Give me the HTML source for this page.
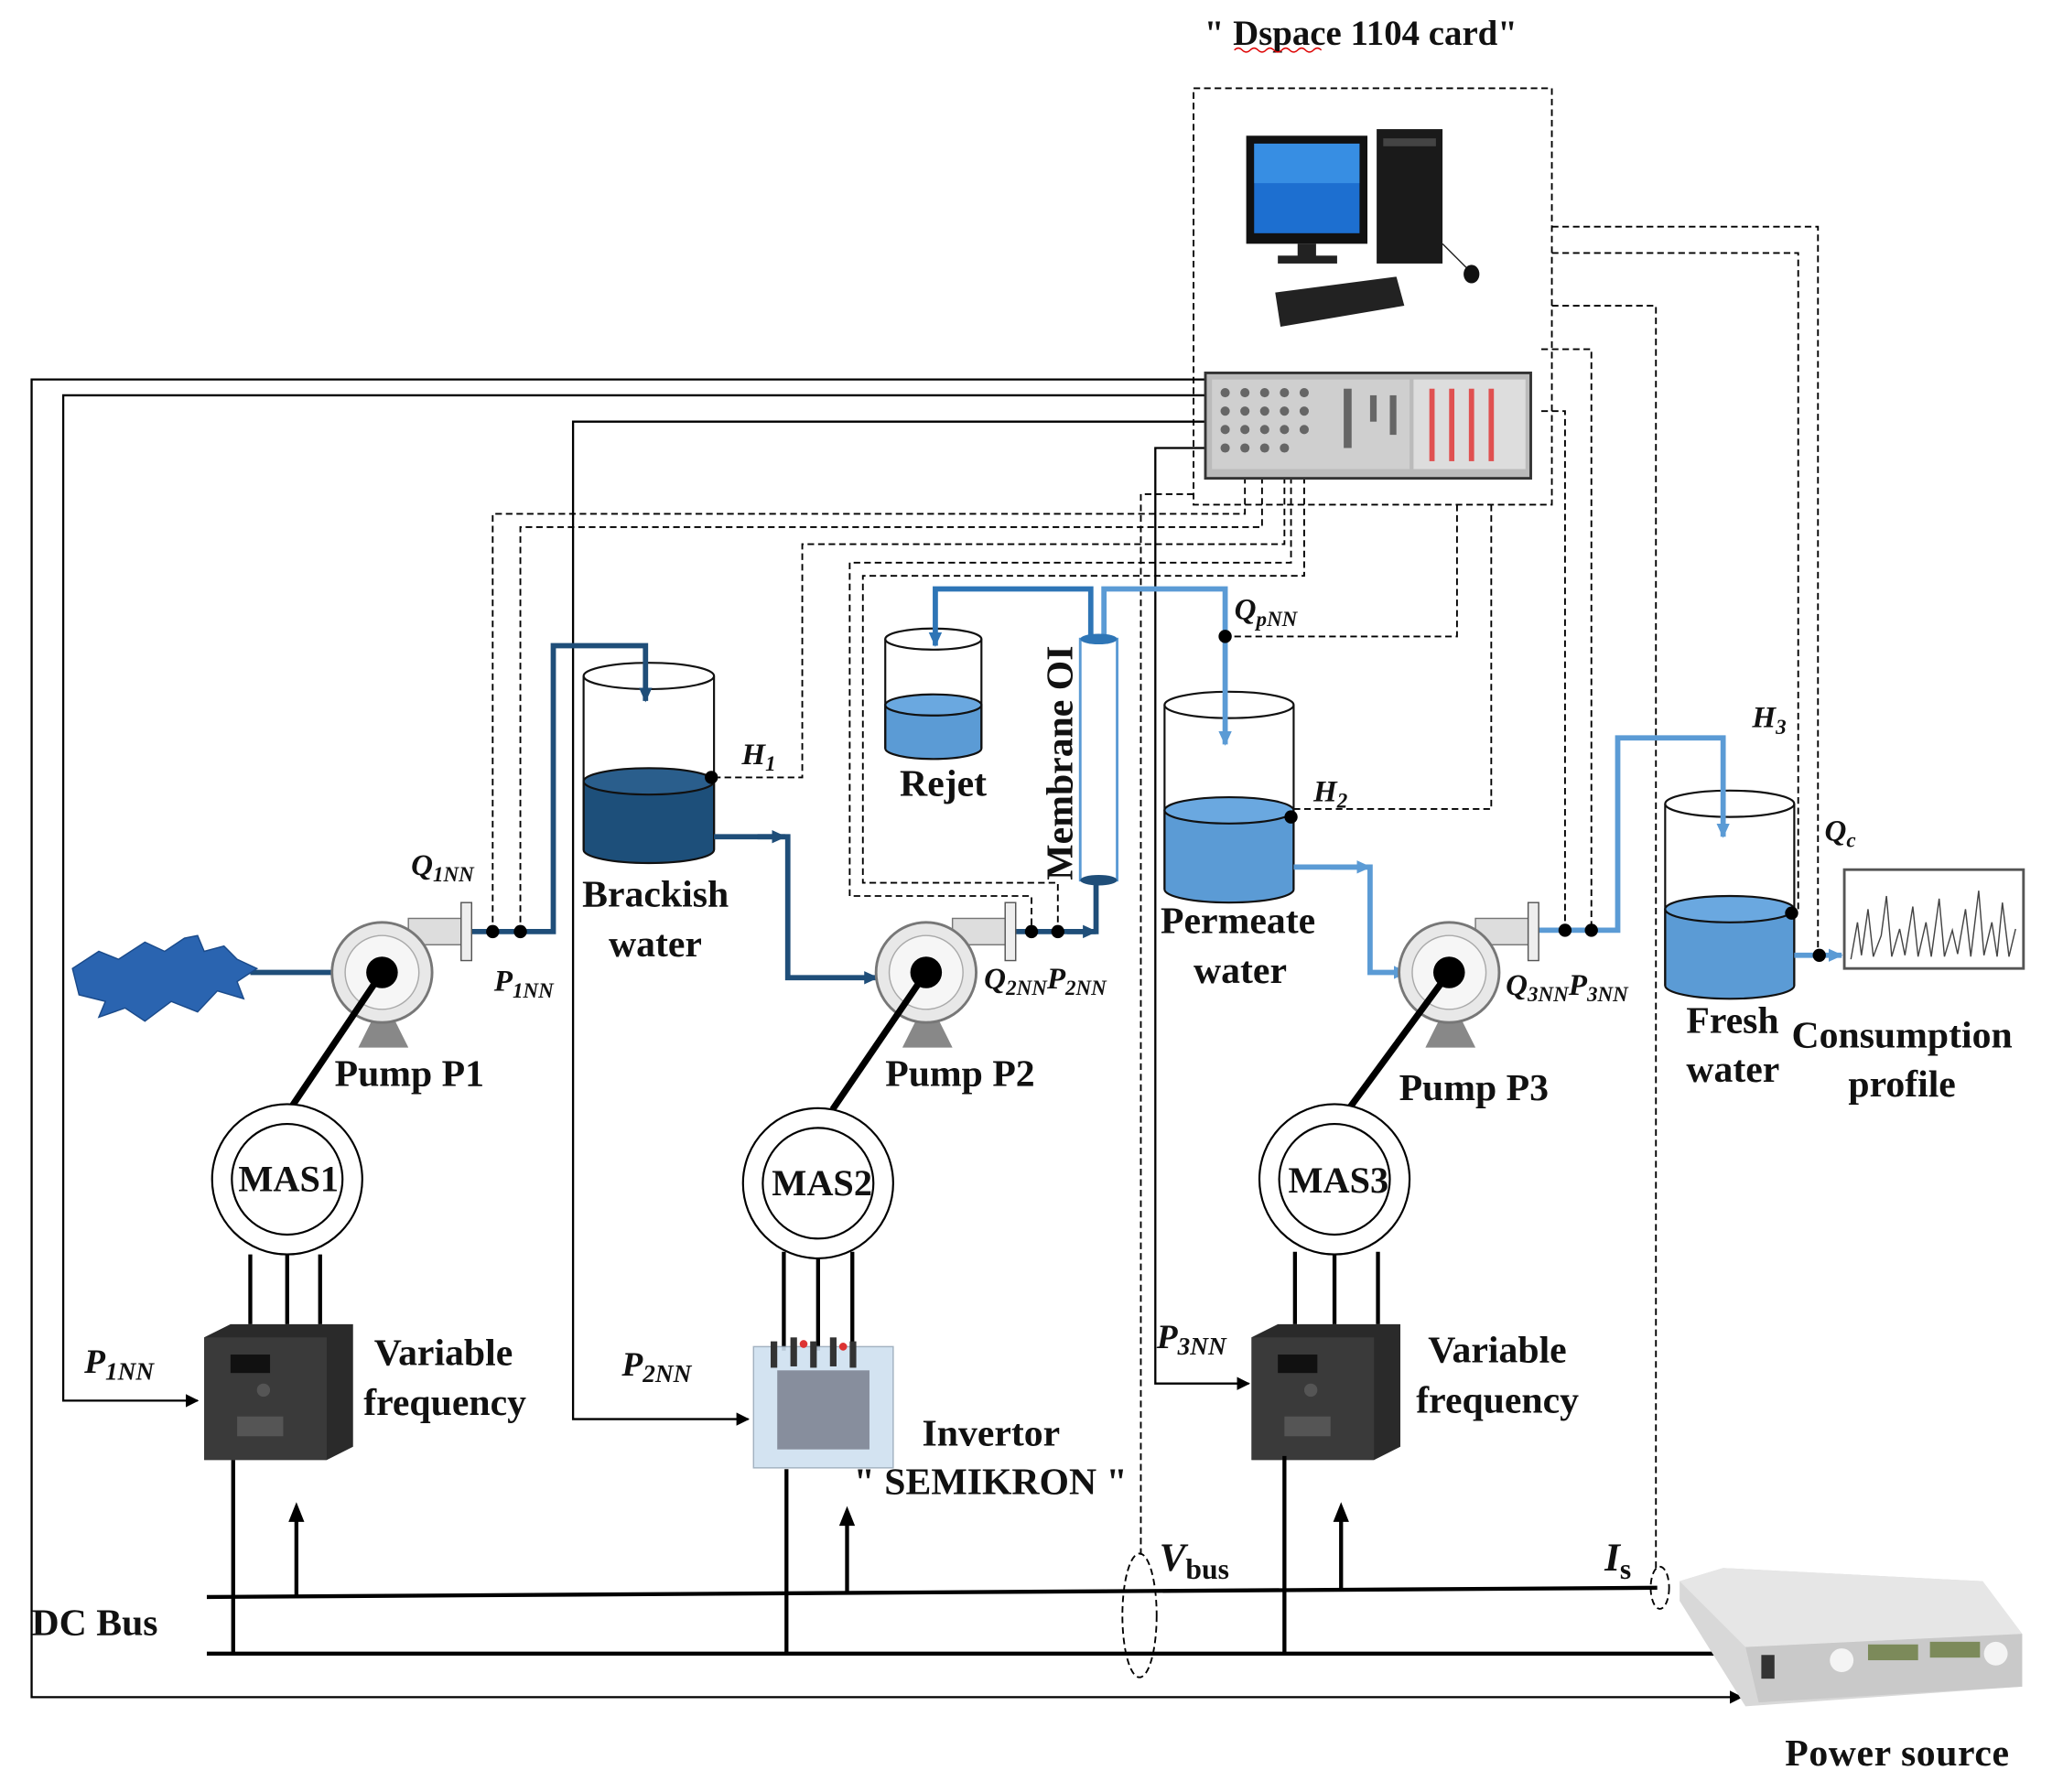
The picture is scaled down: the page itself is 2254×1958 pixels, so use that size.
<!DOCTYPE html>
<html><head><meta charset="utf-8"><style>
html,body{margin:0;padding:0;background:#fff;}
svg{display:block;}
text{font-family:"Liberation Serif",serif;font-weight:bold;fill:#111;}
.i{font-style:italic;}
</style></head><body>
<svg width="2254" height="1958" viewBox="0 0 1566 1360" preserveAspectRatio="none" xmlns="http://www.w3.org/2000/svg">
<defs>
<marker id="ab" markerWidth="10" markerHeight="10" refX="9" refY="5" orient="auto" markerUnits="userSpaceOnUse"><path d="M0,0 L10,5 L0,10 z" fill="#000"/></marker>
<marker id="ad" markerWidth="12" markerHeight="12" refX="10" refY="6" orient="auto" markerUnits="userSpaceOnUse"><path d="M0,1 L11,6 L0,11 z" fill="#1f4e79"/></marker>
<marker id="am" markerWidth="12" markerHeight="12" refX="10" refY="6" orient="auto" markerUnits="userSpaceOnUse"><path d="M0,1 L11,6 L0,11 z" fill="#2e75b6"/></marker>
<marker id="al" markerWidth="12" markerHeight="12" refX="10" refY="6" orient="auto" markerUnits="userSpaceOnUse"><path d="M0,1 L11,6 L0,11 z" fill="#5b9bd5"/></marker>
</defs>

<text x="1033" y="34" font-size="27" text-anchor="middle">" Dspace 1104 card"</text>
<path d="M937 38 q3 -3 6 0 t6 0 t6 0 t6 0 t6 0 t6 0 t6 0 t6 0 t6 0 t6 0 t6 0" stroke="#d00" fill="none" stroke-width="1"/>

<g stroke="#000" stroke-width="1.3" fill="none" stroke-dasharray="5,3">
<rect x="906" y="67" width="272" height="316"/>
<path d="M945 362 V390 H374 V705"/>
<path d="M958 362 V400 H395 V705"/>
<path d="M975 362 V413 H609 V590 H545"/>
<path d="M980 362 V427 H645 V680 H783 V705"/>
<path d="M990 362 V437 H655 V670 H803 V705"/>
<path d="M1106 383 V483 H932"/>
<path d="M1132 383 V614 H982"/>
<path d="M1178 172 H1380 V722"/>
<path d="M1178 192 H1365 V690"/>
<path d="M1178 232 H1257 V1190"/>
<path d="M1170 265 H1208 V705"/>
<path d="M1170 312 H1188 V705"/>
<path d="M906 375 H866 V1180"/>
<ellipse cx="865" cy="1226" rx="13" ry="47"/>
<ellipse cx="1260" cy="1205" rx="7" ry="16"/>
</g>

<g stroke="#000" stroke-width="1.6" fill="none">
<path d="M916 288 H24 V1288 H1322" marker-end="url(#ab)"/>
<path d="M916 300 H48 V1063 H150" marker-end="url(#ab)"/>
<path d="M916 320 H435 V1077 H568" marker-end="url(#ab)"/>
<path d="M916 340 H877 V1050 H948" marker-end="url(#ab)"/>
</g>

<rect x="946" y="103" width="92" height="82" fill="#111"/>
<rect x="952" y="109" width="80" height="68" fill="#1d6fd0"/>
<rect x="952" y="109" width="80" height="30" fill="#4aa3f0" opacity="0.6"/>
<rect x="985" y="185" width="14" height="10" fill="#222"/>
<rect x="970" y="194" width="45" height="6" fill="#222"/>
<rect x="1045" y="98" width="50" height="102" fill="#1a1a1a"/>
<rect x="1050" y="105" width="40" height="6" fill="#444"/>
<polygon points="968,222 1060,210 1066,232 972,248" fill="#222"/>
<path d="M1095 185 Q1110 200 1115 205" stroke="#222" fill="none"/>
<ellipse cx="1117" cy="208" rx="6" ry="7" fill="#111"/>

<rect x="915" y="283" width="247" height="80" fill="#bbb" stroke="#333" stroke-width="2"/>
<rect x="920" y="288" width="150" height="68" fill="#cfcfcf"/>
<rect x="1073" y="288" width="85" height="68" fill="#ddd"/>
<g fill="#666">
<circle cx="930" cy="298" r="3.5"/><circle cx="945" cy="298" r="3.5"/><circle cx="960" cy="298" r="3.5"/><circle cx="975" cy="298" r="3.5"/><circle cx="990" cy="298" r="3.5"/>
<circle cx="930" cy="312" r="3.5"/><circle cx="945" cy="312" r="3.5"/><circle cx="960" cy="312" r="3.5"/><circle cx="975" cy="312" r="3.5"/><circle cx="990" cy="312" r="3.5"/>
<circle cx="930" cy="326" r="3.5"/><circle cx="945" cy="326" r="3.5"/><circle cx="960" cy="326" r="3.5"/><circle cx="975" cy="326" r="3.5"/><circle cx="990" cy="326" r="3.5"/>
<circle cx="930" cy="340" r="3.5"/><circle cx="945" cy="340" r="3.5"/><circle cx="960" cy="340" r="3.5"/><circle cx="975" cy="340" r="3.5"/>
<rect x="1020" y="295" width="6" height="45"/><rect x="1040" y="300" width="5" height="20"/><rect x="1055" y="300" width="5" height="30"/>
</g>
<g fill="#e05050"><rect x="1085" y="295" width="4" height="55"/><rect x="1100" y="295" width="4" height="55"/><rect x="1115" y="295" width="4" height="55"/><rect x="1130" y="295" width="4" height="55"/></g>

<g stroke="#111" stroke-width="1.5">
<path d="M443 593 V645 A49.5 10 0 0 0 542 645 V593 Z" fill="#1d4f7a"/>
<ellipse cx="492.5" cy="593" rx="49.5" ry="10" fill="#2a5e8c"/>
<path d="M443 513 V645 M542 513 V645" fill="none"/>
<ellipse cx="492.5" cy="513" rx="49.5" ry="10" fill="none"/>
<path d="M672 535 V568 A36.5 8 0 0 0 745 568 V535 Z" fill="#5b9bd5"/>
<ellipse cx="708.5" cy="535" rx="36.5" ry="8" fill="#6aa8e0"/>
<path d="M672 485 V568 M745 485 V568" fill="none"/>
<ellipse cx="708.5" cy="485" rx="36.5" ry="8" fill="none"/>
<path d="M884 615 V675 A49 10 0 0 0 982 675 V615 Z" fill="#5b9bd5"/>
<ellipse cx="933" cy="615" rx="49" ry="10" fill="#6aa8e0"/>
<path d="M884 535 V675 M982 535 V675" fill="none"/>
<ellipse cx="933" cy="535" rx="49" ry="10" fill="none"/>
<path d="M1264 690 V748 A49 10 0 0 0 1362 748 V690 Z" fill="#5b9bd5"/>
<ellipse cx="1313" cy="690" rx="49" ry="10" fill="#6aa8e0"/>
<path d="M1264 610 V748 M1362 610 V748" fill="none"/>
<ellipse cx="1313" cy="610" rx="49" ry="10" fill="none"/>
</g>
<rect x="820" y="485" width="28" height="183" fill="#fff" stroke="#5b9bd5" stroke-width="2"/>

<g fill="none" stroke-width="4">
<path d="M190 738 H260" stroke="#1f4e79"/>
<path d="M358 707 H420 V490 H490 V532" stroke="#1f4e79" marker-end="url(#ad)"/>
<path d="M542 635 H598 V742 H666" stroke="#1f4e79" marker-end="url(#ad)"/>
<path d="M575 635 H596" stroke="#1f4e79" marker-end="url(#ad)"/>
<path d="M770 707 H832 V668" stroke="#1f4e79"/>
<path d="M810 707 H832" stroke="#1f4e79" marker-end="url(#ad)"/>
<path d="M828 485 V447 H710 V490" stroke="#2e75b6" marker-end="url(#am)"/>
<path d="M838 485 V447 H930 V565" stroke="#5b9bd5" marker-end="url(#al)"/>
<path d="M982 658 H1040 V738 H1068" stroke="#5b9bd5" marker-end="url(#al)"/>
<path d="M1010 658 H1040" stroke="#5b9bd5" marker-end="url(#al)"/>
<path d="M1168 706 H1228 V560 H1308 V635" stroke="#5b9bd5" marker-end="url(#al)"/>
<path d="M1362 725 H1398" stroke="#5b9bd5" marker-end="url(#al)"/>
</g>
<ellipse cx="834" cy="485" rx="14" ry="4" fill="#2e75b6"/>
<ellipse cx="834" cy="668" rx="14" ry="4" fill="#1f4e79"/>

<polygon points="55,735 75,722 90,728 110,715 125,722 140,712 150,710 155,722 170,718 180,728 195,735 180,745 185,758 165,752 150,768 130,760 110,775 95,765 75,772 80,760 60,755" fill="#2a64b0" stroke="#1a4a8a"/>

<g fill="#000">
<circle cx="540" cy="590" r="5"/><circle cx="374" cy="707" r="5"/><circle cx="395" cy="707" r="5"/>
<circle cx="783" cy="707" r="5"/><circle cx="803" cy="707" r="5"/><circle cx="930" cy="483" r="5"/>
<circle cx="980" cy="620" r="5"/><circle cx="1188" cy="706" r="5"/><circle cx="1208" cy="706" r="5"/>
<circle cx="1360" cy="693" r="5"/><circle cx="1381" cy="725" r="5"/>
</g>

<g id="pump">
<polygon points="272,795 310,795 300,775 282,775" fill="#888"/>
<rect x="310" y="697" width="42" height="20" fill="#ddd" stroke="#777"/>
<rect x="350" y="685" width="8" height="44" fill="#eee" stroke="#555"/>
<circle cx="290" cy="738" r="38" fill="#e8e8e8" stroke="#777" stroke-width="2"/>
<circle cx="290" cy="738" r="28" fill="#f6f6f6" stroke="#aaa"/>
<circle cx="290" cy="738" r="12" fill="#000"/>
</g>
<use href="#pump" transform="translate(413,0)"/>
<use href="#pump" transform="translate(810,0)"/>

<g stroke="#000" stroke-width="5">
<line x1="290" y1="738" x2="218" y2="845"/>
<line x1="703" y1="738" x2="632" y2="842"/>
<line x1="1100" y1="738" x2="1025" y2="840"/>
</g>

<g fill="#fff" stroke="#000" stroke-width="1.5">
<circle cx="218" cy="895" r="57"/><circle cx="218" cy="895" r="42"/>
<circle cx="621" cy="898" r="57"/><circle cx="621" cy="898" r="42"/>
<circle cx="1013" cy="895" r="57"/><circle cx="1013" cy="895" r="42"/>
</g>
<text x="219" y="904" font-size="28" text-anchor="middle">MAS1</text>
<text x="624" y="907" font-size="28" text-anchor="middle">MAS2</text>
<text x="1016" y="905" font-size="28" text-anchor="middle">MAS3</text>

<g stroke="#000" stroke-width="3">
<line x1="190" y1="952" x2="190" y2="1005"/><line x1="218" y1="952" x2="218" y2="1005"/><line x1="243" y1="952" x2="243" y2="1005"/>
<line x1="595" y1="950" x2="595" y2="1025"/><line x1="621" y1="955" x2="621" y2="1025"/><line x1="647" y1="950" x2="647" y2="1025"/>
<line x1="983" y1="950" x2="983" y2="1005"/><line x1="1013" y1="952" x2="1013" y2="1005"/><line x1="1046" y1="950" x2="1046" y2="1005"/>
</g>

<g id="drv">
<polygon points="155,1015 175,1005 268,1005 268,1098 248,1108 155,1108" fill="#2a2a2a"/>
<rect x="155" y="1015" width="93" height="93" fill="#3a3a3a"/>
<rect x="175" y="1028" width="30" height="14" fill="#111"/>
<circle cx="200" cy="1055" r="5" fill="#555"/>
<rect x="180" y="1075" width="35" height="15" fill="#555"/>
</g>
<use href="#drv" transform="translate(795,0)"/>
<rect x="572" y="1022" width="106" height="92" fill="#cfe0f0" stroke="#9ab" opacity="0.9"/>
<rect x="590" y="1040" width="70" height="60" fill="#556" opacity="0.6"/>
<g fill="#333"><rect x="585" y="1018" width="5" height="20"/><rect x="600" y="1015" width="5" height="22"/><rect x="615" y="1018" width="5" height="20"/><rect x="630" y="1015" width="5" height="22"/><rect x="645" y="1018" width="5" height="20"/></g>
<circle cx="610" cy="1020" r="3" fill="#d33"/><circle cx="640" cy="1022" r="3" fill="#d33"/>

<g stroke="#000" stroke-width="3" fill="none">
<line x1="157" y1="1212" x2="1258" y2="1205"/>
<line x1="157" y1="1255" x2="1320" y2="1255"/>
<line x1="177" y1="1108" x2="177" y2="1255"/>
<line x1="597" y1="1115" x2="597" y2="1255"/>
<line x1="975" y1="1105" x2="975" y2="1255"/>
<line x1="225" y1="1212" x2="225" y2="1145"/>
<line x1="643" y1="1210" x2="643" y2="1150"/>
<line x1="1018" y1="1207" x2="1018" y2="1145"/>
</g>
<g fill="#000">
<polygon points="225,1140 219,1155 231,1155"/>
<polygon points="643,1143 637,1158 649,1158"/>
<polygon points="1018,1140 1012,1155 1024,1155"/>
</g>

<polygon points="1275,1200 1308,1190 1505,1200 1535,1240 1535,1280 1325,1295 1300,1255 1275,1215" fill="#d8d8d8"/>
<polygon points="1275,1200 1308,1190 1505,1200 1535,1240 1325,1250" fill="#e6e6e6"/>
<polygon points="1325,1250 1535,1240 1535,1280 1335,1292" fill="#c9c9c9"/>
<rect x="1337" y="1256" width="10" height="18" fill="#333"/>
<rect x="1418" y="1248" width="38" height="12" fill="#7c8a5a"/>
<rect x="1465" y="1246" width="38" height="12" fill="#7c8a5a"/>
<circle cx="1398" cy="1260" r="9" fill="#f4f4f4"/><circle cx="1515" cy="1255" r="9" fill="#f4f4f4"/>

<rect x="1400" y="660" width="136" height="75" fill="#fff" stroke="#555" stroke-width="2"/>
<polyline fill="none" stroke="#444" stroke-width="1" points="1405,728 1410,700 1413,725 1418,690 1422,726 1428,710 1432,680 1436,726 1442,705 1446,725 1452,688 1456,726 1462,700 1466,726 1472,682 1476,726 1482,706 1486,724 1492,690 1496,726 1502,676 1506,725 1512,700 1516,726 1520,685 1525,726 1530,705"/>

<g font-size="29">
<text x="442" y="688">Brackish</text>
<text x="462" y="726">water</text>
<text x="683" y="604">Rejet</text>
<text x="881" y="708">Permeate</text>
<text x="906" y="746">water</text>
<text x="1280" y="784">Fresh</text>
<text x="1280" y="821">water</text>
<text x="1360" y="795">Consumption</text>
<text x="1403" y="832">profile</text>
<text x="254" y="824">Pump P1</text>
<text x="672" y="824">Pump P2</text>
<text x="1062" y="835">Pump P3</text>
<text x="284" y="1036">Variable</text>
<text x="276" y="1074">frequency</text>
<text x="1084" y="1034">Variable</text>
<text x="1075" y="1072">frequency</text>
<text x="700" y="1097">Invertor</text>
<text x="648" y="1134">" SEMIKRON "</text>
<text x="24" y="1241">DC Bus</text>
<text x="1355" y="1340" textLength="170">Power source</text>
<text transform="translate(814,668) rotate(-90)">Membrane OI</text>
</g>
<g font-size="23" class="i">
<text x="312" y="664">Q<tspan font-size="16" dy="5">1NN</tspan></text>
<text x="375" y="752">P<tspan font-size="16" dy="5">1NN</tspan></text>
<text x="563" y="580">H<tspan font-size="16" dy="5">1</tspan></text>
<text x="747" y="750">Q<tspan font-size="16" dy="5">2NN</tspan><tspan dy="-5">P</tspan><tspan font-size="16" dy="5">2NN</tspan></text>
<text x="937" y="470">Q<tspan font-size="16" dy="5">pNN</tspan></text>
<text x="997" y="608">H<tspan font-size="16" dy="5">2</tspan></text>
<text x="1143" y="755">Q<tspan font-size="16" dy="5">3NN</tspan><tspan dy="-5">P</tspan><tspan font-size="16" dy="5">3NN</tspan></text>
<text x="1330" y="552">H<tspan font-size="16" dy="5">3</tspan></text>
<text x="1385" y="638">Q<tspan font-size="16" dy="5">c</tspan></text>
<text x="64" y="1042" font-size="26">P<tspan font-size="19" dy="5">1NN</tspan></text>
<text x="472" y="1044" font-size="26">P<tspan font-size="19" dy="5">2NN</tspan></text>
<text x="878" y="1023" font-size="26">P<tspan font-size="19" dy="5">3NN</tspan></text>
<text x="880" y="1192" font-size="30">V<tspan font-size="22" dy="6" font-style="normal">bus</tspan></text>
<text x="1218" y="1192" font-size="30">I<tspan font-size="22" dy="6" font-style="normal">s</tspan></text>
</g>
</svg>
</body></html>
